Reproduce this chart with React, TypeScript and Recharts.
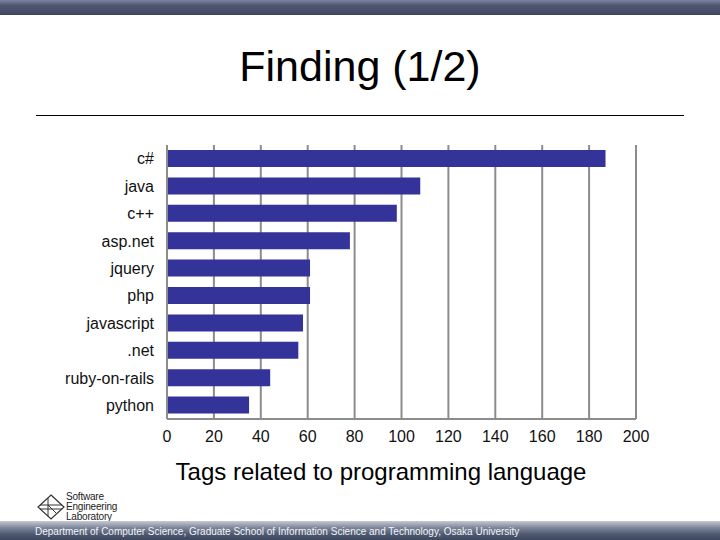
import React from "react";
import { BarChart, Bar, XAxis, YAxis, CartesianGrid } from "recharts";

const languages = [
  "c#",
  "java",
  "c++",
  "asp.net",
  "jquery",
  "php",
  "javascript",
  ".net",
  "ruby-on-rails",
  "python",
];
const tagCounts = [187, 108, 98, 78, 61, 61, 58, 56, 44, 35];
const xTicks = [0, 20, 40, 60, 80, 100, 120, 140, 160, 180, 200];

const data = languages.map((name, i) => ({ name, count: tagCounts[i] }));

const FONT = "'Liberation Sans', Arial, sans-serif";
const GRID = "#8c8c8c";

function Logo() {
  return (
    <div style={{ position: "absolute", left: 36, top: 492, display: "flex", alignItems: "center" }}>
      <svg width={30} height={28} viewBox="0 0 30 28">
        <path d="M15 2 L28 14 L15 26 L2 14 Z" fill="none" stroke="#333" strokeWidth={1.2} />
        <path d="M4 12 H26 M4 16 H26 M12 5 V23 M12 12 L20 20" fill="none" stroke="#333" strokeWidth={1} />
      </svg>
      <div style={{ fontSize: 10, lineHeight: "10px", color: "#222", fontFamily: FONT, letterSpacing: -0.2 }}>
        <div>Software</div>
        <div>Engineering</div>
        <div>Laboratory</div>
      </div>
    </div>
  );
}

export default function App() {
  return (
    <div
      style={{
        position: "fixed",
        left: 0,
        top: 0,
        width: 720,
        height: 540,
        background: "#ffffff",
        overflow: "hidden",
        fontFamily: FONT,
      }}
    >
      {/* top band */}
      <div
        style={{
          position: "absolute",
          left: 0,
          top: 0,
          width: 720,
          height: 15,
          background: "linear-gradient(to bottom, #7d85a3 0%, #4e5672 35%, #454d68 85%, #3c4658 100%)",
        }}
      />

      <div
        style={{
          position: "absolute",
          left: 0,
          top: 38,
          width: 720,
          textAlign: "center",
          fontSize: 43,
          lineHeight: "56px",
          color: "#000",
        }}
      >
        Finding (1/2)
      </div>
      <div style={{ position: "absolute", left: 36, top: 115, width: 648, height: 1, background: "#000" }} />

      <div style={{ position: "absolute", left: 0, top: 0 }}>
        <BarChart
          width={720}
          height={455}
          data={data}
          layout="vertical"
          margin={{ top: 145, right: 84, left: 47, bottom: 6 }}
        >
          <CartesianGrid horizontal={false} stroke={GRID} strokeWidth={2} />
          <XAxis
            type="number"
            domain={[0, 200]}
            ticks={xTicks}
            interval={0}
            height={30}
            axisLine={{ stroke: GRID, strokeWidth: 2 }}
            tickLine={false}
            tickSize={0}
            tickMargin={12}
            tick={{ fill: "#111", fontSize: 16 }}
          />
          <YAxis
            type="category"
            dataKey="name"
            width={120}
            axisLine={{ stroke: GRID, strokeWidth: 2 }}
            tickLine={false}
            tickSize={0}
            tickMargin={13}
            interval={0}
            tick={{ fill: "#111", fontSize: 16 }}
          />
          <Bar dataKey="count" fill="#333399" barSize={17} isAnimationActive={false} />
        </BarChart>
      </div>

      <div
        style={{
          position: "absolute",
          left: 0,
          top: 457,
          width: 762,
          textAlign: "center",
          fontSize: 24,
          lineHeight: "30px",
          color: "#000",
        }}
      >
        Tags related to programming language
      </div>

      <Logo />

      {/* bottom band */}
      <div
        style={{
          position: "absolute",
          left: 0,
          top: 521,
          width: 720,
          height: 19,
          background: "linear-gradient(to bottom, #c5cad3 0%, #7e879a 35%, #4e5870 70%, #3e4760 100%)",
        }}
      />
      <div
        style={{
          position: "absolute",
          left: 35,
          top: 526,
          fontSize: 10,
          lineHeight: "12px",
          color: "#f2f4f8",
          whiteSpace: "nowrap",
        }}
      >
        Department of Computer Science, Graduate School of Information Science and Technology, Osaka University
      </div>
    </div>
  );
}
